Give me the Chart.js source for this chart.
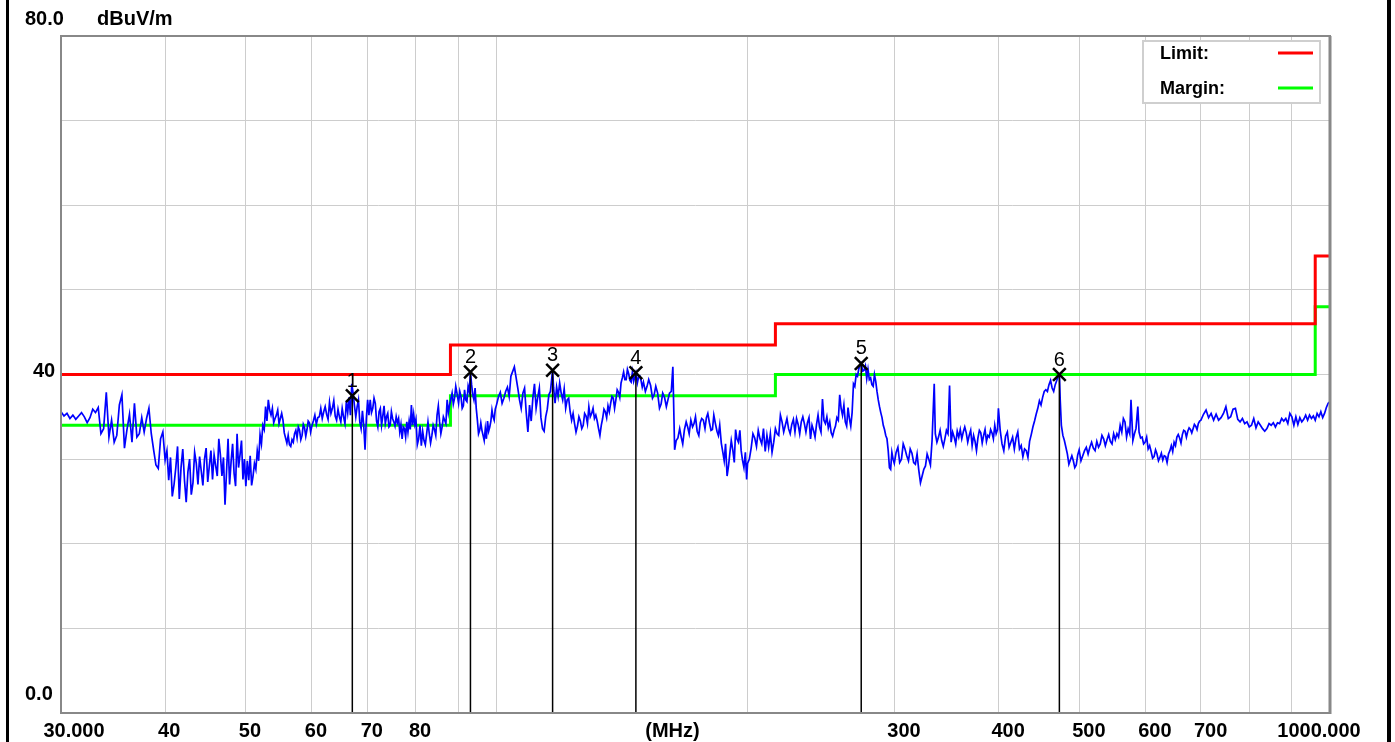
<!DOCTYPE html>
<html><head><meta charset="utf-8">
<script src="https://cdn.jsdelivr.net/npm/chart.js@4.4.1/dist/chart.umd.min.js"></script>
<style>html,body{margin:0;padding:0;background:#fff;}canvas{display:block}</style>
</head><body>
<canvas id="c" width="1395" height="742"></canvas>
<script>
// ---------------- data ----------------
const limitFreqs   = [30, 88, 88, 216, 216, 960, 960, 1000];
const limitLevels  = [40, 40, 43.5, 43.5, 46, 46, 54, 54];
const marginFreqs  = [30, 88, 88, 216, 216, 960, 960, 1000];
const marginLevels = [34, 34, 37.5, 37.5, 40, 40, 48, 48];

const markerFreqs  = [67.1, 93.0, 116.7, 146.9, 273.8, 473.4];
const markerLevels = [37.5, 40.3, 40.5, 40.2, 41.3, 40.0];
const markerLabels = ['1', '2', '3', '4', '5', '6'];

const xTickValues = [30, 40, 50, 60, 70, 80, 300, 400, 500, 600, 700, 1000];
const xTickLabels = ['30.000', '40', '50', '60', '70', '80', '300', '400', '500', '600', '700', '1000.000'];
const xUnitLabel  = '(MHz)';
const xGridValues = [40, 50, 60, 70, 80, 90, 100, 200, 300, 400, 500, 600, 700, 800, 900];
const yTickValues = [80, 40, 0];
const yTickLabels = ['80.0', '40', '0.0'];
const yUnitLabel  = 'dBuV/m';
const legendLabels = ['Limit:', 'Margin:'];

// measured trace [MHz, dBuV/m]
const trace30to50 = [
 [30.00,35.6],[30.25,35.1],[30.50,35.4],[30.75,34.8],[31.00,35.2],[31.25,34.7],[31.50,35.1],[31.75,35.5],[32.00,35.0],[32.25,34.3],
 [32.50,34.9],[32.75,35.9],[33.00,35.5],[33.25,36.1],[33.50,33.0],[33.75,33.6],[34.00,37.9],[34.25,32.6],[34.50,34.6],[34.75,32.0],
 [35.00,32.8],[35.25,36.4],[35.50,37.6],[35.75,31.3],[36.00,33.5],[36.25,35.3],[36.50,32.0],[36.75,36.6],[37.00,32.6],[37.25,33.0],
 [37.50,34.9],[37.75,33.2],[38.00,34.8],[38.25,36.0],[38.50,33.0],[38.75,31.1],[39.00,29.3],[39.25,28.9],[39.50,32.4],[39.75,33.2],
 [40.0,29.9],[40.2,31.0],[40.4,27.5],[40.6,30.2],[40.8,25.6],[41.0,27.0],[41.2,29.0],[41.4,31.5],[41.6,25.3],[41.8,29.0],
 [42.0,31.2],[42.2,27.5],[42.4,24.9],[42.6,28.5],[42.8,30.0],[43.0,25.8],[43.2,27.2],[43.4,30.8],[43.6,29.5],[43.8,27.0],
 [44.0,30.3],[44.2,28.6],[44.4,26.9],[44.6,30.0],[44.8,31.3],[45.0,27.3],[45.2,29.2],[45.4,31.0],[45.6,27.6],[45.8,30.5],
 [46.0,29.2],[46.2,28.0],[46.4,32.4],[46.6,30.5],[46.8,28.0],[47.0,30.2],[47.2,24.6],[47.4,28.5],[47.6,32.4],[47.8,27.0],
 [48.0,29.7],[48.2,31.8],[48.4,28.3],[48.6,26.8],[48.8,33.0],[49.0,29.0],[49.2,30.5],[49.4,32.2],[49.6,27.6],[49.8,30.0]
];
const trace50to100 = [
 [50.0,26.8],[50.2,29.8],[50.4,27.5],[50.6,30.4],[50.8,26.9],[51.0,28.0],[51.2,29.5],[51.4,28.8],[51.6,31.0],[51.8,29.8],
 [52.0,32.9],[52.2,31.8],[52.4,34.0],[52.6,33.5],[52.8,36.2],[53.0,34.5],[53.2,37.0],[53.4,35.8],[53.6,35.2],[53.8,36.0],
 [54.0,34.3],[54.2,34.8],[54.4,35.2],[54.6,35.8],[54.8,34.2],[55.0,34.8],[55.2,35.4],[55.4,34.6],[55.6,33.1],[55.8,32.5],
 [56.0,31.9],[56.2,32.8],[56.4,31.7],[56.6,31.5],[56.8,32.3],[57.0,32.0],[57.2,33.0],[57.4,33.4],[57.6,32.5],[57.8,33.8],
 [58.0,33.4],[58.2,32.3],[58.4,32.8],[58.6,34.1],[58.8,33.7],[59.0,32.7],[59.2,33.5],[59.4,34.5],[59.6,34.3],[59.8,33.2],
 [60.0,33.9],[60.25,34.5],[60.5,35.2],[60.75,34.1],[61.0,34.9],[61.25,35.0],[61.5,36.0],[61.75,34.8],[62.0,35.6],[62.25,36.2],
 [62.5,35.3],[62.75,34.7],[63.0,36.7],[63.25,35.4],[63.5,36.0],[63.75,36.9],[64.0,35.1],[64.25,34.6],[64.5,35.9],[64.75,35.0],
 [65.0,34.4],[65.25,36.0],[65.5,35.0],[65.75,34.2],[66.0,36.8],[66.25,35.5],[66.5,37.3],[66.75,35.2],[67.0,38.9],[67.25,37.8],
 [67.5,36.3],[67.75,35.0],[68.0,36.2],[68.25,37.0],[68.5,34.4],[68.75,33.6],[69.0,35.7],[69.25,34.0],[69.5,31.1],[69.75,34.8],
 [70.0,37.0],[70.25,35.2],[70.5,37.0],[70.75,35.5],[71.0,36.0],[71.25,37.2],[71.5,36.6],[71.75,34.5],[72.0,33.8],[72.25,35.6],
 [72.5,36.0],[72.75,34.0],[73.0,35.1],[73.25,36.3],[73.5,34.2],[73.75,35.0],[74.0,35.4],[74.25,33.8],[74.5,34.0],[74.75,35.6],
 [75.0,34.8],[75.25,34.4],[75.5,33.9],[75.75,35.0],[76.0,34.3],[76.25,34.8],[76.5,33.2],[76.75,34.1],[77.0,32.4],[77.25,33.8],
 [77.5,33.6],[77.75,32.6],[78.0,34.4],[78.25,33.2],[78.5,34.5],[78.75,33.5],[79.0,36.4],[79.25,34.0],[79.5,35.3],[79.75,34.1],
 [80.0,34.7],[80.3,31.7],[80.6,32.4],[80.9,34.0],[81.2,31.6],[81.5,33.3],[81.8,32.2],[82.1,31.7],[82.4,33.0],[82.7,34.4],
 [83.0,33.0],[83.3,31.9],[83.6,32.8],[83.9,34.0],[84.2,33.5],[84.5,32.8],[84.8,35.2],[85.1,36.3],[85.4,34.4],[85.7,33.0],
 [86.0,33.8],[86.3,35.0],[86.6,34.6],[86.9,34.2],[87.2,37.0],[87.5,35.5],[87.8,36.4],[88.1,37.1],[88.4,37.8],[88.7,36.5],
 [89.0,37.2],[89.3,38.6],[89.6,37.8],[90.0,36.6],[90.3,38.0],[90.6,37.4],[90.9,36.0],[91.2,36.3],[91.5,38.2],[91.8,37.0],
 [92.1,36.8],[92.4,38.6],[92.7,38.0],[93.0,40.3],[93.3,38.8],[93.6,37.6],[93.9,37.0],[94.2,38.4],[94.5,36.0],[94.8,34.6],
 [95.1,33.0],[95.4,33.4],[95.7,34.3],[96.0,33.4],[96.3,32.8],[96.6,32.2],[96.9,33.6],[97.2,32.4],[97.5,34.5],[97.8,33.3],
 [98.1,33.8],[98.4,34.5],[98.7,35.8],[99.0,35.0],[99.3,34.6],[99.6,35.9]
];
const trace100to200 = [
 [100,36.5],[100.5,37.4],[101,37.9],[101.5,36.6],[102,37.2],[102.5,38.0],[103,38.5],[103.5,37.4],[104,39.8],[105,40.9],
 [106,38.4],[106.5,37.0],[107,36.0],[107.5,37.8],[108,38.4],[108.5,35.5],[109,33.2],[109.5,36.4],[110,34.5],[110.5,37.2],
 [111,38.9],[111.5,36.0],[112,37.3],[112.5,38.4],[113,34.9],[113.5,33.6],[114,33.3],[114.5,35.0],[115,35.9],[115.5,37.6],
 [116,38.0],[116.7,40.5],[117,38.5],[117.5,36.6],[118,38.5],[118.5,37.4],[119,39.0],[119.5,37.8],[120,37.0],[120.5,38.3],
 [121,36.0],[121.5,37.0],[122,37.2],[122.5,35.6],[123,34.6],[123.5,35.4],[124,34.2],[124.5,33.2],[125,33.9],[125.5,35.0],
 [126,34.5],[126.5,33.6],[127,34.0],[127.5,35.4],[128,35.1],[128.5,34.2],[129,36.2],[129.5,35.0],[130,35.4],[130.5,36.0],
 [131,34.8],[131.5,35.2],[132,34.5],[132.5,33.6],[133,32.8],[133.5,34.0],[134,34.8],[134.5,35.9],[135,35.6],[135.5,34.9],
 [136,36.3],[136.5,35.6],[137,36.6],[137.5,37.4],[138,37.2],[138.5,36.0],[139,37.0],[139.5,38.2],[140,37.9],[140.5,37.3],
 [141,39.0],[141.5,39.6],[142,40.3],[142.5,39.4],[143,39.4],[143.5,40.6],[144,40.1],[144.5,39.3],[145,39.1],[145.5,40.3],
 [146,39.2],[146.9,40.2],[147.5,39.0],[148,39.7],[148.5,39.8],[149,39.3],[149.5,38.5],[150,39.1],[150.8,38.0],[151.5,38.6],
 [152.2,39.4],[153,38.7],[153.8,37.2],[154.5,37.6],[155.2,38.6],[156,37.8],[156.8,36.0],[157.5,36.5],[158.2,37.8],[159,37.3],
 [159.8,36.2],[160.5,37.0],[161.2,37.8],[162,38.0],[162.7,40.9],[163.5,31.1],[164.2,32.2],[165,32.5],[165.8,33.6],[166.5,32.6],
 [167.2,31.8],[168,33.5],[168.8,34.4],[169.5,33.8],[170.2,33.0],[171,34.6],[171.8,33.8],[172.5,34.2],[173.2,35.0],[174,33.3],
 [174.8,32.8],[175.5,34.3],[176.2,34.8],[177,34.6],[177.8,33.6],[178.5,34.9],[179.2,35.4],[180,34.3],[180.8,33.4],[181.5,33.5],
 [182.2,35.2],[183,34.2],[183.8,33.3],[184.5,32.8],[185.2,34.0],[186,31.9],[186.8,30.8],[187.5,29.8],[188.2,31.8],[189,28.0],
 [189.8,29.3],[190.5,30.8],[191.2,32.2],[192,31.1],[192.8,29.6],[193.5,33.5],[194.2,32.4],[195,32.0],[195.8,33.4],[196.5,31.0],
 [197.2,29.9],[198,29.0],[198.8,30.8],[199.5,27.6]
];
const trace200to300 = [
 [200,29.5],[201,30.0],[202,31.3],[203,33.0],[204,32.5],[205,31.5],[206,33.4],[207,32.4],[208,31.8],[209,33.6],
 [210,30.9],[211,32.8],[212,31.4],[213,33.0],[214,30.8],[215,32.0],[216,33.6],[217,33.0],[218,32.8],[219,35.2],
 [220,34.4],[221,33.2],[222,34.0],[223,34.8],[224,33.6],[225,33.0],[226,34.1],[227,34.7],[228,33.2],[229,34.8],
 [230,34.1],[231,33.0],[232,34.4],[233,35.0],[234,34.2],[235,33.2],[236,34.3],[237,34.9],[238,32.4],[239,34.0],
 [240,33.4],[241,32.6],[242,34.1],[243,35.2],[244,33.8],[245,33.2],[246,37.1],[247,34.6],[248,34.2],[249,35.0],
 [250,33.7],[251,34.4],[252,33.1],[253,32.7],[254,33.4],[255,33.9],[256,34.9],[257,34.6],[258,37.6],[259,36.0],
 [260,35.2],[261,36.4],[262,34.4],[263,33.9],[264,36.1],[265,34.8],[266,33.9],[267,35.5],[268,38.9],[269,38.6],
 [270,40.0],[271,39.8],[272,40.7],[273.8,41.3],[275,40.4],[276,40.5],[277,41.0],[278,39.5],[279,40.6],[280,39.4],
 [281,39.6],[282,38.8],[283,38.6],[284,40.0],[285,39.2],[286,38.0],[287,37.0],[288,36.2],[289,35.5],[290,34.9],
 [291,34.0],[292,33.5],[293,32.8],[294,32.4],[295,31.0],[296,29.0],[297,28.8],[298,30.8],[299,30.0]
];
const trace300to500 = [
 [300,29.5],[301.5,30.8],[303,31.4],[304.5,29.6],[306,30.0],[307.5,31.8],[309,31.2],[310.5,30.4],[312,29.8],[313.5,31.2],
 [315,30.7],[316.5,29.6],[318,29.4],[319.5,30.6],[321,28.7],[322.5,27.2],[324,28.0],[325.5,28.8],[327,29.2],[328.5,30.6],
 [330,30.0],[331.5,29.3],[333,32.2],[335,38.9],[336,33.0],[337.5,32.0],[339,32.6],[340.5,33.4],[342,32.2],[343.5,31.5],
 [345,32.4],[346.5,33.4],[348,33.0],[349.5,38.7],[351,32.0],[352.5,33.2],[354,32.6],[355.5,31.8],[357,33.3],[358.5,32.6],
 [360,33.5],[361.5,32.4],[363,33.2],[364.5,33.8],[366,33.1],[367.5,32.0],[369,32.8],[370.5,33.4],[372,31.6],[373.5,32.8],
 [375,32.1],[376.5,31.0],[378,32.5],[379.5,33.4],[381,33.1],[382.5,31.9],[384,32.8],[385.5,33.5],[387,32.1],[388.5,32.8],
 [390,32.6],[391.5,33.5],[393,33.1],[394.5,32.4],[396,34.0],[397.5,33.0],[399,33.5],[400,36.0],[402,33.4],[404,31.8],
 [406,31.0],[408,32.7],[410,33.2],[412,31.4],[414,32.0],[416,32.6],[418,31.2],[420,32.5],[422,33.2],[424,31.2],
 [426,31.6],[428,30.3],[430,31.2],[432,31.0],[434,30.2],[436,32.1],[438,32.9],[440,33.8],[442,34.5],[444,35.3],
 [446,36.0],[448,36.9],[450,36.4],[452,37.3],[454,38.0],[456,38.2],[458,38.0],[460,38.8],[462,39.3],[464,38.4],
 [466,38.0],[468,38.8],[470,39.3],[472,39.9],[473.4,40.0],[474.5,37.0],[476,34.0],[478,32.8],[480,32.2],[482,31.4],
 [484,30.6],[486,29.4],[488,29.9],[490,30.4],[492,29.8],[494,29.0],[496,29.3],[498,30.5]
];
const trace500to1000 = [
 [500,31.1],[502.5,29.8],[505,30.4],[507.5,31.0],[510,31.4],[512.5,30.6],[515,31.4],[517.5,32.0],[520,31.3],[522.5,31.0],
 [525,32.1],[527.5,31.4],[530,31.8],[532.5,32.8],[535,32.4],[537.5,31.6],[540,32.3],[542.5,32.9],[545,32.1],[547.5,31.8],
 [550,33.0],[552.5,32.3],[555,33.0],[557.5,32.6],[560,34.0],[562.5,33.2],[565,34.8],[567.5,34.4],[570,32.6],[572.5,33.6],
 [575,33.0],[577,37.0],[580,32.2],[582.5,33.0],[585,33.6],[588,36.2],[590,33.2],[592.5,32.5],[595,32.6],[597.5,31.8],
 [600,32.0],[602.5,32.6],[605,31.2],[607.5,31.6],[610,30.9],[612.5,30.1],[615,30.3],[617.5,31.1],[620,30.6],[622.5,29.8],
 [625,30.2],[627.5,30.7],[630,29.9],[632.5,30.4],[635,30.3],[637.5,29.6],[640,30.6],[642.5,31.0],[645,31.6],[647.5,30.9],
 [650,32.0],[652.5,31.6],[655,32.6],[657.5,32.9],[660,32.5],[662.5,31.9],[665,32.9],[667.5,33.4],[670,33.3],[672.5,32.6],
 [675,33.3],[677.5,33.7],[680,33.5],[682.5,33.1],[685,33.6],[687.5,34.1],[690,33.9],[692.5,33.5],[695,34.2],[697.5,34.5],
 [700,34.6],[705,35.3],[710,35.8],[715,34.9],[720,35.4],[725,34.6],[730,35.3],[735,34.6],[740,34.9],[745,35.4],
 [750,36.2],[755,34.8],[760,35.0],[765,35.9],[770,36.0],[775,34.7],[780,34.4],[785,34.8],[790,34.2],[795,34.4],
 [800,33.8],[805,34.0],[810,34.8],[815,33.7],[820,34.4],[825,34.0],[830,33.6],[835,33.3],[840,33.6],[845,34.2],
 [850,34.0],[855,34.3],[860,33.8],[865,34.3],[870,34.2],[875,34.8],[880,34.5],[885,34.8],[890,34.2],[895,35.4],
 [900,35.0],[905,34.0],[910,35.0],[915,34.1],[920,34.9],[925,34.4],[930,34.7],[935,35.2],[940,34.6],[945,35.2],
 [950,34.8],[955,35.1],[960,34.6],[965,35.4],[970,35.0],[975,35.6],[980,34.9],[985,35.4],[990,36.1],[995,36.6],[1000,36.8]
];

// ---------------- build ----------------
const tracePoints = [].concat(trace30to50, trace50to100, trace100to200, trace200to300, trace300to500, trace500to1000)
  .sort((a, b) => a[0] - b[0]).map(p => ({x: p[0], y: p[1]}));
const pairs = (fs, vs) => fs.map((f, i) => ({x: f, y: vs[i]}));

const AXIS_FONT = 'bold 20px "Liberation Sans", Arial, sans-serif';
const LEG_FONT = 'bold 18px "Liberation Sans", Arial, sans-serif';
const MARK_FONT = '20px "Liberation Sans", Arial, sans-serif';

const decor = {
  id: 'decor',
  beforeDraw(chart) {
    const {ctx, width, height} = chart;
    ctx.save();
    ctx.fillStyle = '#fff'; ctx.fillRect(0, 0, width, height);
    ctx.fillStyle = '#000';
    ctx.fillRect(6, 0, 3, height);
    ctx.fillRect(1387, 0, 4, height);
    ctx.restore();
  },
  afterDatasetsDraw(chart) {
    const {ctx, chartArea: a} = chart;
    const xs = chart.scales.x, ys = chart.scales.y;
    ctx.save();
    // frame
    ctx.strokeStyle = '#888'; ctx.lineWidth = 2;
    ctx.strokeRect(a.left, a.top, a.right - a.left, a.bottom - a.top);
    ctx.lineWidth = 3; ctx.beginPath(); ctx.moveTo(a.right, a.top); ctx.lineTo(a.right, a.bottom + 1); ctx.stroke();

    // marker numbers
    ctx.fillStyle = '#000'; ctx.font = MARK_FONT; ctx.textAlign = 'center'; ctx.textBaseline = 'alphabetic';
    markerFreqs.forEach((f, i) => {
      ctx.fillText(markerLabels[i], xs.getPixelForValue(f), ys.getPixelForValue(markerLevels[i]) - 9);
    });

    // x tick labels
    ctx.font = AXIS_FONT;
    const xb = a.bottom + 24;
    xTickValues.forEach((v, i) => {
      const px = xs.getPixelForValue(v);
      if (i === 0) { ctx.textAlign = 'center'; ctx.fillText(xTickLabels[i], px + 13, xb); }
      else if (i === xTickValues.length - 1) { ctx.textAlign = 'center'; ctx.fillText(xTickLabels[i], px - 11, xb); }
      else { ctx.textAlign = 'left'; ctx.fillText(xTickLabels[i], px - 7, xb); }
    });
    ctx.textAlign = 'center';
    ctx.fillText(xUnitLabel, (a.left + a.right) / 2 - 23, xb);

    // y labels
    ctx.textAlign = 'left';
    const yOff = {80: -11, 40: 2, 0: -13};
    yTickValues.forEach((v, i) => {
      const xpos = v === 40 ? 33 : 25;
      ctx.fillText(yTickLabels[i], xpos, ys.getPixelForValue(v) + yOff[v]);
    });
    ctx.fillText(yUnitLabel, 97, ys.getPixelForValue(80) - 11);

    // legend box
    const lx = a.right - 187, ly = a.top + 5, lw = 177, lh = 62;
    ctx.fillStyle = '#fff'; ctx.fillRect(lx, ly, lw, lh);
    ctx.strokeStyle = '#cfcfcf'; ctx.lineWidth = 2; ctx.strokeRect(lx, ly, lw, lh);
    const legendColors = [chart.data.datasets[1].borderColor, chart.data.datasets[2].borderColor];
    ctx.font = LEG_FONT; ctx.fillStyle = '#000'; ctx.textAlign = 'left'; ctx.textBaseline = 'middle';
    legendLabels.forEach((t, i) => {
      const yy = ly + 12 + i * 35;
      ctx.fillText(t, lx + 17, yy + 1);
      ctx.strokeStyle = legendColors[i]; ctx.lineWidth = 3;
      ctx.beginPath(); ctx.moveTo(lx + 135, yy); ctx.lineTo(lx + 170, yy); ctx.stroke();
    });
    ctx.restore();
  }
};

const datasets = [
  {label: 'Trace', data: tracePoints, borderColor: '#0000ff', borderWidth: 1.7, pointRadius: 0, tension: 0, order: 2},
  {label: 'Limit', data: pairs(limitFreqs, limitLevels), borderColor: '#ff0000', borderWidth: 3, pointRadius: 0, order: 3},
  {label: 'Margin', data: pairs(marginFreqs, marginLevels), borderColor: '#00ff00', borderWidth: 3, pointRadius: 0, order: 3}
];
markerFreqs.forEach((f, i) => datasets.push({
  label: 'M' + markerLabels[i], data: [{x: f, y: 0}, {x: f, y: markerLevels[i]}],
  borderColor: '#000', borderWidth: 1.5, pointRadius: 0, order: 1
}));
datasets.push({
  type: 'scatter', label: 'Markers', data: pairs(markerFreqs, markerLevels),
  pointStyle: 'crossRot', pointRadius: 9, borderColor: '#000', backgroundColor: '#000', borderWidth: 2.5, order: 0
});

const gridOpts = {color: '#cdcdcd', lineWidth: 1, drawTicks: false};
new Chart(document.getElementById('c'), {
  type: 'line',
  data: {datasets},
  plugins: [decor],
  options: {
    responsive: false, animation: false, devicePixelRatio: 1,
    layout: {padding: {left: 61, top: 36, right: 65, bottom: 29}},
    plugins: {legend: {display: false}, tooltip: {enabled: false}},
    scales: {
      x: {type: 'logarithmic', min: 30, max: 1000,
          afterBuildTicks: s => { s.ticks = xGridValues.map(v => ({value: v})); },
          ticks: {display: false}, grid: gridOpts, border: {display: false},
          afterFit: s => { s.height = 0; }},
      y: {type: 'linear', min: 0, max: 80,
          ticks: {display: false, stepSize: 10}, grid: gridOpts, border: {display: false},
          afterFit: s => { s.width = 0; }}
    }
  }
});
</script>
</body></html>
